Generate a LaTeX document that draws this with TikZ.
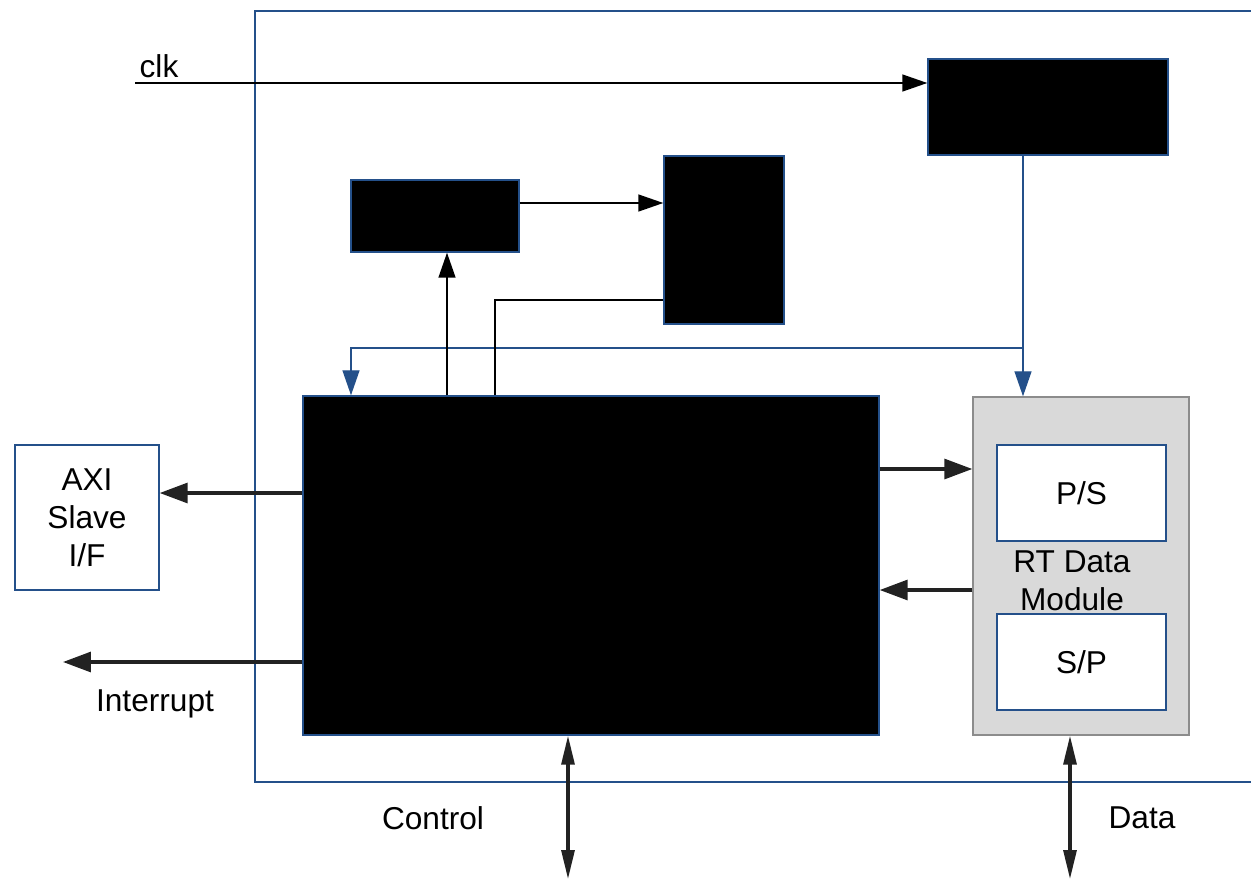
\documentclass[tikz,border=0pt]{standalone}
\usepackage{fontspec}
\setmainfont{Liberation Sans}
\usetikzlibrary{arrows.meta}
\definecolor{hwblue}{HTML}{24508A}
\definecolor{hwink}{HTML}{222222}
\definecolor{hwgray}{HTML}{D9D9D9}
\definecolor{hwedge}{HTML}{8C8C8C}
\tikzset{
  hw frame/.style={draw=hwblue, line width=0.7pt},
  hw dark/.style={draw=hwblue, fill=black, line width=0.8pt, inner sep=0pt},
  hw box/.style={draw=hwblue, fill=white, line width=0.8pt, inner sep=0pt,
    align=center, font=\fontsize{18}{21.5}\selectfont},
  hw module/.style={draw=hwedge, fill=hwgray, line width=0.8pt, inner sep=0pt},
  thin link/.style={draw=black, line width=0.8pt,
    -{Triangle[length=0.5cm, width=0.34cm]}},
  plain link/.style={draw=black, line width=0.8pt},
  clock link/.style={draw=hwblue, line width=0.75pt,
    -{Triangle[length=0.5cm, width=0.34cm]}},
  bus link/.style={draw=hwink, line width=1.8pt,
    -{Triangle[length=0.56cm, width=0.4cm]}},
  port link/.style={draw=hwink, line width=1.8pt,
    {Triangle[length=0.58cm, width=0.26cm]}-{Triangle[length=0.58cm, width=0.26cm]}},
  signal label/.style={font=\fontsize{18}{21.5}\selectfont, text=black, inner sep=0pt},
}

\begin{document}
\begin{tikzpicture}[x=0.02cm, y=-0.02cm]
  \useasboundingbox (0,0) rectangle (1251,879);

  % Enclosing core boundary, open on the right.
  \draw[hw frame] (1251,11) -- (255,11) -- (255,782) -- (1251,782);

  % Blocks.
  \node[hw dark, minimum width=240*0.02cm, minimum height=96*0.02cm]
    (clkgen) at (1048,107) {};
  \node[hw dark, minimum width=168*0.02cm, minimum height=72*0.02cm]
    (reg) at (435,216) {};
  \node[hw dark, minimum width=120*0.02cm, minimum height=168*0.02cm]
    (ctl) at (724,240) {};
  \node[hw dark, minimum width=576*0.02cm, minimum height=339*0.02cm]
    (core) at (591,565.5) {};
  \node[hw module, minimum width=216*0.02cm, minimum height=338*0.02cm]
    (rtdm) at (1081,566) {};
  \node[hw box, minimum width=169*0.02cm, minimum height=96*0.02cm]
    (ps) at (1081.5,493) {P/S};
  \node[hw box, minimum width=169*0.02cm, minimum height=96*0.02cm]
    (sp) at (1081.5,662) {S/P};
  \node[signal label, align=center] (rtlabel) at (1072,581) {RT Data\\Module};
  \node[hw box, minimum width=144*0.02cm, minimum height=145*0.02cm]
    (axi) at (87,517.5) {AXI\\Slave\\I/F};

  % Reference levels for the connectors.
  \coordinate (clkin) at (135,83);
  \coordinate (regy) at (0,203);
  \coordinate (upx) at (447,0);
  \coordinate (ctly) at (0,300);
  \coordinate (ctlx) at (495,0);
  \coordinate (tap) at (1023,348);
  \coordinate (corex) at (351,0);
  \coordinate (axiy) at (0,493);
  \coordinate (irqy) at (0,662);
  \coordinate (irqout) at (63,662);
  \coordinate (txy) at (0,469);
  \coordinate (rxy) at (0,590);
  \coordinate (ctrlx) at (568,879);
  \coordinate (datax) at (1070,879);

  % Clock path.
  \draw[thin link] (clkin) -- (clkin -| clkgen.west);
  \draw[plain link, draw=hwblue] (clkgen.south -| tap) -- (tap);
  \draw[clock link] (tap) -- (tap |- rtdm.north);
  \draw[clock link] (tap) -- (tap -| corex) -- (corex |- core.north);

  % Control path.
  \draw[thin link] (upx |- core.north) -- (upx |- reg.south);
  \draw[thin link] (regy -| reg.east) -- (regy -| ctl.west);
  \draw[plain link] (ctly -| ctl.west) -- (ctly -| ctlx) -- (ctlx |- core.north);

  % Buses.
  \draw[bus link] (axiy -| core.west) -- (axiy -| axi.east);
  \draw[bus link] (irqy -| core.west) -- (irqout);
  \draw[bus link] (txy -| core.east) -- (txy -| rtdm.west);
  \draw[bus link] (rxy -| rtdm.west) -- (rxy -| core.east);
  \draw[port link] (ctrlx |- core.south) -- (ctrlx);
  \draw[port link] (datax |- rtdm.south) -- (datax);

  % Signal names.
  \node[signal label] (clklabel) at (159,66) {clk};
  \node[signal label] (irqlabel) at (155,704) {Interrupt};
  \node[signal label] (ctrllabel) at (433,818) {Control};
  \node[signal label] (datalabel) at (1142,818) {Data};
\end{tikzpicture}
\end{document}
